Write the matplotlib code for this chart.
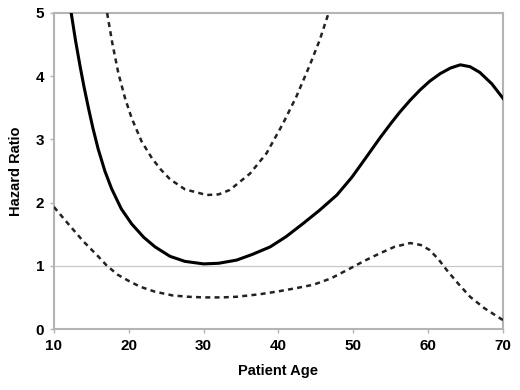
import matplotlib
matplotlib.use("Agg")
import matplotlib.pyplot as plt

# hazard ratio estimate (solid)
est_age = [12.3, 12.9, 13.5, 14.0, 14.6, 15.2, 15.9, 16.8, 17.7, 19.0, 20.4, 22.0,
           23.5, 25.5, 27.5, 30.0, 32.0, 34.4, 36.5, 38.9, 41.0, 43.3, 45.5, 47.8,
           49.8, 51.8, 53.6, 55.0, 56.2, 57.6, 58.9, 60.2, 61.6, 63.0, 64.3, 65.6,
           66.9, 68.5, 70.0]
est_hr = [5.0, 4.55, 4.15, 3.84, 3.50, 3.18, 2.85, 2.50, 2.22, 1.90, 1.66, 1.45,
          1.30, 1.15, 1.07, 1.03, 1.04, 1.09, 1.18, 1.30, 1.46, 1.67, 1.88, 2.12,
          2.40, 2.73, 3.03, 3.25, 3.43, 3.62, 3.78, 3.92, 4.04, 4.13, 4.18, 4.15,
          4.06, 3.88, 3.65]

# upper confidence limit (dashed)
upper_age = [17.1, 17.8, 18.6, 19.5, 20.4, 21.7, 23.1, 24.3, 25.5, 27.5, 30.4,
             32.0, 33.5, 36.2, 38.4, 40.6, 42.4, 44.2, 45.5, 46.7]
upper_hr = [5.0, 4.52, 4.05, 3.65, 3.33, 2.97, 2.70, 2.52, 2.37, 2.21, 2.12,
            2.13, 2.20, 2.46, 2.78, 3.25, 3.68, 4.18, 4.57, 5.0]

# lower confidence limit (dashed)
lower_age = [10.0, 12.0, 13.9, 15.9, 17.0, 18.5, 20.0, 21.5, 23.5, 25.9, 28.0,
             30.0, 32.5, 34.4, 37.5, 40.2, 42.5, 44.65, 47.0, 49.6, 51.5, 53.6,
             55.5, 57.6, 59.0, 60.2, 61.4, 62.5, 64.0, 65.6, 67.5, 70.0]
lower_hr = [1.93, 1.65, 1.39, 1.15, 1.01, 0.86, 0.76, 0.67, 0.59, 0.53, 0.51,
            0.50, 0.50, 0.51, 0.55, 0.60, 0.65, 0.70, 0.80, 0.96, 1.08, 1.20,
            1.30, 1.36, 1.33, 1.25, 1.10, 0.93, 0.72, 0.51, 0.33, 0.14]

x_ticks = [10, 20, 30, 40, 50, 60, 70]
y_ticks = [0, 1, 2, 3, 4, 5]

plt.rcParams['font.family'] = ['Liberation Sans', 'DejaVu Sans']

fig = plt.figure(figsize=(5.2, 3.9), dpi=100)
ax = fig.add_axes([0.1038, 0.1564, 0.8635, 0.8103])

ax.axhline(1, color='#c8c8c8', linewidth=0.9, zorder=1)
ax.plot(est_age, est_hr, color='black', linewidth=2.2, zorder=3)
ax.plot(upper_age, upper_hr, color='#222222', linewidth=1.8, linestyle=(0, (2.0, 1.7)), zorder=3)
ax.plot(lower_age, lower_hr, color='#222222', linewidth=1.8, linestyle=(0, (2.0, 1.7)), zorder=3)

ax.set_xlim(10, 70)
ax.set_ylim(0, 5)
ax.set_xticks(x_ticks)
ax.set_yticks(y_ticks)

for s in ax.spines.values():
    s.set_color('#b4b4b4')
    s.set_linewidth(1.5)

ax.tick_params(axis='both', direction='out', length=3, width=1, color='#b4b4b4',
               labelsize=11, pad=4)
for lab in ax.get_xticklabels() + ax.get_yticklabels():
    lab.set_fontweight('bold')

ax.set_xlabel('Patient Age', fontsize=10.5, fontweight='bold', labelpad=8)
ax.set_ylabel('Hazard Ratio', fontsize=10.5, fontweight='bold', labelpad=9)

fig.savefig('out.png', dpi=100)
